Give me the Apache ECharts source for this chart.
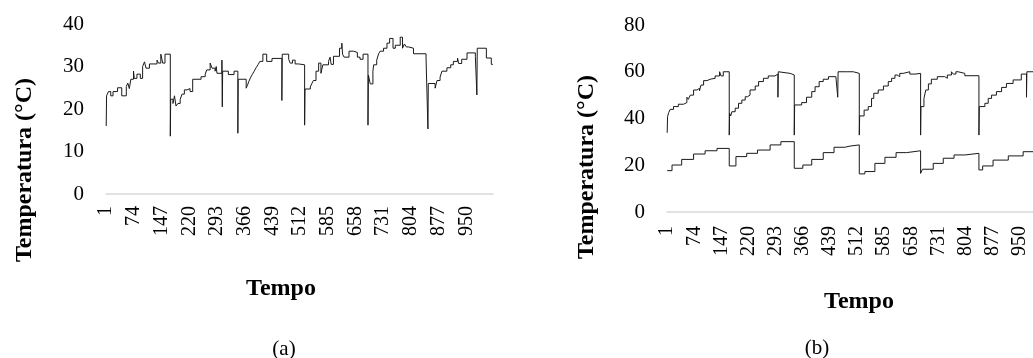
<!DOCTYPE html>
<html>
<head>
<meta charset="utf-8">
<script src="https://cdn.jsdelivr.net/npm/echarts@6/dist/echarts.min.js"></script>
<style>
  html, body { margin: 0; padding: 0; background: #fff; overflow: hidden; }
  /* the right panel runs a little past the page edge, so the canvas is wider than the page */
  #chart { width: 1052px; height: 358px; }
</style>
</head>
<body>
<div id="chart"></div>
<script>
// Time index (one category per sample)
const N = 1020;
const tempo = Array.from({ length: N }, (_, i) => String(i + 1));

// Tick values of the two temperature axes
const ticksA = [0, 10, 20, 30, 40];
const ticksB = [0, 20, 40, 60, 80];

// Panel (a): temperature readings, [sample index, °C] at each step change
const serieA = [
  [0,16],[1,23.1],[6,24.1],[12,23.1],[18,24.1],[30,25],[41,23.1],[53,25.3],[57,26.1],[61,24.8],
  [65,27],[72,28.9],[74,27.2],[81,28.2],[90,27.2],[96,30],[101,31.1],[105,29.6],[114,30.6],[134,31.5],
  [138,30.8],[144,32.9],[149,30.8],[155,32.9],[169,13.6],[170,22.3],[176,21.3],[180,23.1],[184,20.7],[189,21.3],
  [195,22.3],[200,23.5],[206,24.5],[213,24.8],[221,24.1],[228,27],[250,27.6],[261,28.2],[265,29.2],[274,30.8],
  [279,29.6],[287,28.9],[290,30],[292,28.4],[305,31.5],[306,20.5],[307,28.9],[322,28.1],[337,28.9],[347,14.3],
  [348,27],[369,24.9],[372,25.5],[376,26.5],[380,27.3],[385,28.1],[390,28.9],[395,29.7],[400,30.4],[405,31.2],
  [413,32.9],[423,31.2],[437,31.9],[463,22],[464,32.9],[481,31.7],[485,30.8],[491,31.5],[498,30.6],[507,30.8],
  [511,30.4],[523,16.2],[524,24.7],[538,25.2],[542,26],[546,26.7],[553,28.9],[560,30.8],[566,28.4],[571,30.4],
  [586,31.2],[590,32.2],[593,30.5],[599,32.4],[615,34.3],[621,35.5],[623,32.9],[627,32.2],[640,33.6],[652,33.3],
  [662,32.2],[669,31.7],[677,32.9],[690,16.2],[691,28],[696,25.9],[703,28.9],[705,30.4],[713,31.5],[718,33],
  [722,33.6],[731,34.3],[740,35.5],[747,36.6],[756,34.3],[762,35],[775,36.9],[781,34.3],[786,35.3],[791,34.6],
  [797,34.3],[810,33],[843,32],[848,15.3],[849,26],[867,24.9],[872,26.7],[880,27.5],[885,28.9],[898,29.7],
  [908,30.4],[915,31.2],[926,32],[929,30.7],[937,31.7],[951,33.2],[973,32.3],[977,23.3],[978,34.3],[1002,32],
  [1015,30.5],[1019,30.5]
];

// Panel (b): upper curve
const serieBSup = [
  [0,33.9],[1,40.8],[4,42.5],[8,43.9],[17,45.1],[30,46.1],[44,46.8],[53,49.1],[57,48.2],[62,50],
  [71,52.2],[80,52.9],[87,51.9],[91,54.3],[98,56.2],[107,56.8],[116,57.2],[129,58.2],[141,60],[145,58.2],
  [151,60],[167,32.9],[168,42.2],[171,41.1],[174,42.9],[183,44.4],[192,46.5],[201,47.9],[210,49.3],[216,50],
  [223,52.2],[237,53.9],[246,55.8],[259,57.2],[272,58.2],[290,59],[298,49.1],[299,60],[304,59.3],[331,58.6],
  [342,32.9],[343,45.8],[362,46.8],[375,49.1],[389,51.5],[398,53.6],[409,55.8],[420,56.8],[434,57.9],[454,58.6],
  [459,49.1],[460,60],[483,59.3],[487,60],[501,59.3],[517,32.9],[518,41.1],[530,43.6],[541,45.1],[550,48.6],
  [556,50.8],[568,52.2],[582,53.9],[595,55.8],[604,57.2],[613,58.6],[619,57.9],[626,59.3],[635,60],[653,59],
  [667,59.3],[682,32.9],[683,45.1],[691,48.6],[696,52.2],[703,54.8],[711,56.8],[727,57.9],[747,57.2],[754,58.6],
  [765,60],[770,59],[777,60],[783,59.3],[801,58.3],[839,32.9],[840,45.1],[855,46.5],[864,48.6],[873,50],
  [886,51.5],[900,53.3],[913,55],[931,56.5],[953,59],[967,49.1],[968,60],[1019,60]
];

// Panel (b): lower curve
const serieBInf = [
  [0,17.7],[13,20.1],[39,22.5],[71,24.8],[102,26.2],[134,27.2],[167,19.7],[185,23.7],[214,25.1],[243,26.5],
  [277,28.7],[306,30.1],[342,18.7],[365,20.1],[389,22.5],[420,25.4],[449,27.7],[478,28.2],[492,28.7],[517,16.3],
  [532,17.3],[559,20.8],[586,23.4],[616,25.4],[644,26.2],[682,16.5],[687,18.3],[716,20.8],[743,23],[772,24.4],
  [801,25.1],[839,18],[849,19.7],[877,22.2],[918,24],[958,25.8],[1019,25.8]
];

const FONT = 'Liberation Serif';

function xAxisDef(gridIndex, margin) {
  return {
    type: 'category', gridIndex, data: tempo, boundaryGap: true,
    axisTick: { show: false },
    axisLine: { lineStyle: { color: '#d9d9d9', width: 1.5 } },
    axisLabel: { rotate: 90, interval: 72, fontSize: 20, fontFamily: FONT, color: '#000', margin }
  };
}
function yAxisDef(gridIndex, ticks) {
  return {
    type: 'value', gridIndex, min: ticks[0], max: ticks[ticks.length - 1],
    interval: ticks[1] - ticks[0],
    splitLine: { show: false }, axisLine: { show: false }, axisTick: { show: false },
    axisLabel: { fontSize: 21, fontFamily: FONT, color: '#000', margin: 22 }
  };
}
function lineSeries(xi, data) {
  return {
    type: 'line', xAxisIndex: xi, yAxisIndex: xi, data, step: 'end',
    showSymbol: false, symbol: 'none',
    lineStyle: { color: '#1a1a1a', width: 1 }
  };
}
function label(text, x, y, size, bold, rot) {
  return {
    type: 'text', x, y, rotation: rot || 0,
    style: { text, fontFamily: FONT, fontSize: size, fontWeight: bold ? 'bold' : 'normal',
             fill: '#000', align: 'center', verticalAlign: 'middle' }
  };
}

const chart = echarts.init(document.getElementById('chart'), null, { renderer: 'canvas' });
chart.setOption({
  animation: false,
  backgroundColor: '#fff',
  grid: [
    { left: 106, top: 24, width: 387, height: 170 },
    { left: 667, top: 25, width: 379, height: 187 }
  ],
  xAxis: [xAxisDef(0, 12), xAxisDef(1, 14)],
  yAxis: [yAxisDef(0, ticksA), yAxisDef(1, ticksB)],
  series: [lineSeries(0, serieA), lineSeries(1, serieBSup), lineSeries(1, serieBInf)],
  graphic: [
    label('Temperatura (°C)', 25, 170, 24, true, Math.PI / 2),
    label('Temperatura (°C)', 587, 167, 24, true, Math.PI / 2),
    label('Tempo', 281, 289, 24, true),
    label('Tempo', 859, 302, 24, true),
    label('(a)', 284, 349, 21, false),
    label('(b)', 817, 348, 21, false)
  ]
});
</script>
</body>
</html>
